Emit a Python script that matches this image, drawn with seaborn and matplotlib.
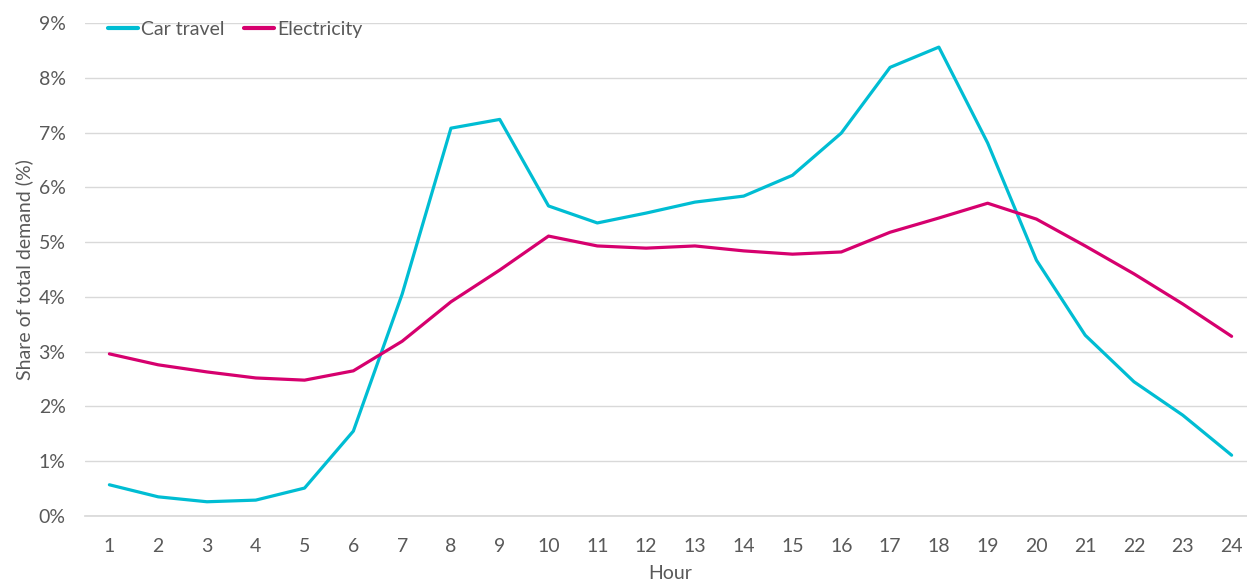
import matplotlib.pyplot as plt
import pandas as pd
import seaborn as sns
import numpy as np
from matplotlib.ticker import PercentFormatter

sns.set_theme(style="white")
plt.rcParams['font.family'] = ['Lato', 'DejaVu Sans']

hours = list(range(1, 25))
car_travel = [0.57, 0.35, 0.26, 0.29, 0.51, 1.55, 4.05, 7.08, 7.24, 5.66, 5.35, 5.53,
              5.73, 5.84, 6.22, 6.99, 8.19, 8.56, 6.81, 4.67, 3.30, 2.45, 1.84, 1.11]
electricity = [2.96, 2.76, 2.63, 2.52, 2.48, 2.65, 3.19, 3.91, 4.49, 5.11, 4.93, 4.89,
               4.93, 4.84, 4.78, 4.82, 5.18, 5.44, 5.71, 5.42, 4.93, 4.42, 3.87, 3.28]
series_names = ["Car travel", "Electricity"]
colors = ["#00BDD3", "#D6006E"]

df = pd.DataFrame({
    "Hour": hours * 2,
    "Share": car_travel + electricity,
    "Series": [series_names[0]] * 24 + [series_names[1]] * 24,
})

fig = plt.figure(figsize=(12.47, 5.82), dpi=100)
ax = fig.add_axes([85 / 1247, 1 - 516 / 582, (1256 - 85) / 1247, (516 - 23) / 582])

sns.lineplot(data=df, x="Hour", y="Share", hue="Series", palette=colors,
             linewidth=2.3, ax=ax)

text_col = "#595959"
ax.set_xlim(0.5, 24.5)
ax.set_ylim(0, 9)
ax.set_xticks(hours)
ax.set_yticks(np.arange(0, 10, 1))
ax.yaxis.set_major_formatter(PercentFormatter(decimals=0))
ax.tick_params(axis="both", labelsize=14, colors=text_col, length=0)
ax.tick_params(axis="x", pad=16)
ax.tick_params(axis="y", pad=14)
ax.grid(axis="y", color="#D9D9D9", linewidth=1)
ax.set_axisbelow(True)
for s in ["top", "right", "left"]:
    ax.spines[s].set_visible(False)
ax.spines["bottom"].set_color("#D9D9D9")

ax.set_xlabel("Hour", fontsize=14, color=text_col, labelpad=7)
ax.set_ylabel("Share of total demand (%)", fontsize=14, color=text_col, labelpad=4)

leg = ax.legend(loc="upper left", bbox_to_anchor=(0.005, 1.04), ncol=2, frameon=False,
                fontsize=14, handlelength=1.5, handletextpad=0.2, columnspacing=1.0,
                labelcolor=text_col)
for line in leg.get_lines():
    line.set_linewidth(3)

fig.savefig("out.png", dpi=100)
